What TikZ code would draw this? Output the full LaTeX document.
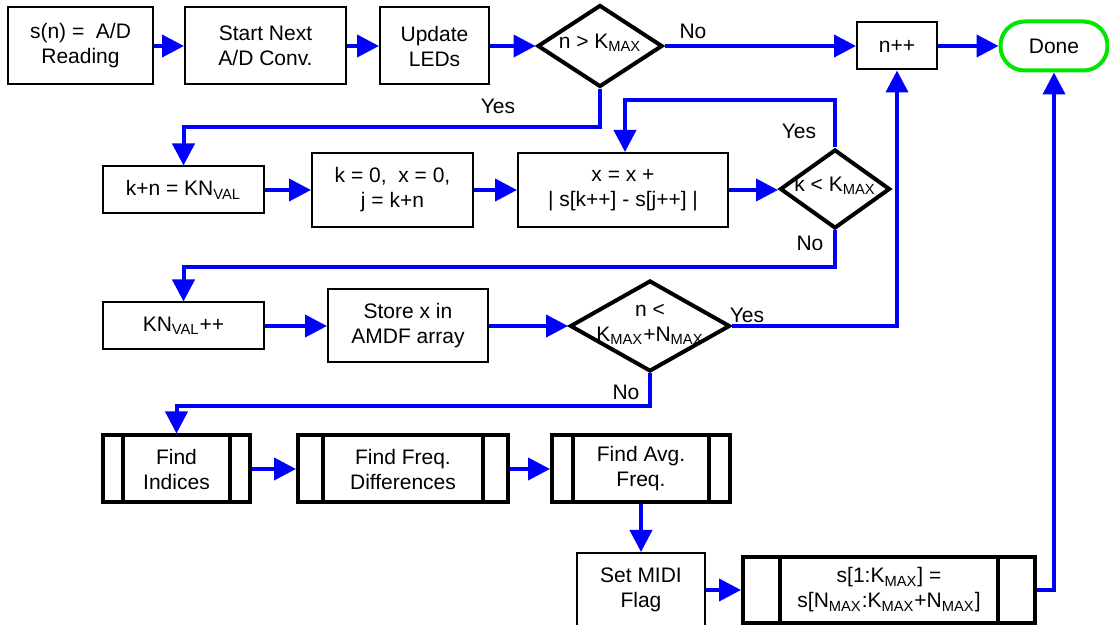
\documentclass[tikz,border=0pt]{standalone}
\usepackage{fontspec}
\setmainfont{Liberation Sans}
\usetikzlibrary{arrows.meta,shapes.geometric}
\definecolor{flowblue}{RGB}{0,0,255}
\definecolor{donegreen}{RGB}{0,230,0}
\newcommand{\lo}[1]{\textsubscript{#1}}
% diamond text takes no room, so the diamond keeps its set size
\newcommand{\dectext}[1]{\smash{\makebox[0pt]{\raisebox{-1.5pt}{\begin{tabular}{@{}c@{}}#1\end{tabular}}}}}
\begin{document}
\begin{tikzpicture}[x=0.5pt,y=-0.5pt]
        % Define styles
        \tikzset{
            every node/.style={font=\fontsize{10.5pt}{12.5pt}\selectfont},
            proc/.style={draw, line width=1pt, align=center, inner sep=0pt},
            decision/.style={diamond, draw, line width=2pt, inner sep=0pt},
            subproc/.style={draw, line width=2pt, align=center, inner sep=0pt,
                path picture={\draw[line width=2pt]
                    ([xshift=#1]path picture bounding box.north west) -- ([xshift=#1]path picture bounding box.south west)
                    ([xshift=-#1]path picture bounding box.north east) -- ([xshift=-#1]path picture bounding box.south east);}},
            subproc/.default=10pt,
            terminal/.style={draw=donegreen, line width=2pt, rounded corners=12pt, inner sep=0pt},
            flow/.style={-{Triangle[length=11pt,width=11pt]}, draw=flowblue, line width=2pt},
            lbl/.style={inner sep=1pt}
        }
        \useasboundingbox (0,0) rectangle (1109,625);
        % Top row
        \node[proc, minimum width=72.5pt, minimum height=38.5pt] (rd) at (80.5,46) {s(n) =\ \ A/D\\Reading};
        \node[proc, minimum width=80.5pt, minimum height=38.5pt] (sn) at (265.5,46) {Start Next\\A/D Conv.};
        \node[proc, minimum width=54.5pt, minimum height=38.5pt] (led) at (434.5,46) {Update\\LEDs};
        \node[decision, minimum width=62.5pt, minimum height=41pt] (d1) at (600,46) {\dectext{n > K\lo{MAX}}};
        \node[proc, minimum width=40pt, minimum height=23.5pt] (npp) at (897,46) {n++};
        \node[terminal, minimum width=53.5pt, minimum height=24.5pt] (done) at (1054,46) {Done};
        % Inner loop row
        \node[proc, minimum width=80.5pt, minimum height=23.5pt] (kn) at (183.5,190) {k+n = KN\lo{VAL}};
        \node[proc, minimum width=80.5pt, minimum height=37pt] (kz) at (392.5,190) {k = 0,\ \ x = 0,\\j = k+n};
        \node[proc, minimum width=105pt, minimum height=37pt] (xs) at (623,190) {x = x +\\| s[k++] - s[j++] |};
        \node[decision, minimum width=55pt, minimum height=39.5pt] (d2) at (835,189) {\dectext{k < K\lo{MAX}}};
        % Outer loop row
        \node[proc, minimum width=80.5pt, minimum height=23.5pt] (knp) at (183.5,326) {KN\lo{VAL}++};
        \node[proc, minimum width=80pt, minimum height=36.5pt] (st) at (408,326) {Store x in\\AMDF array};
        \node[decision, minimum width=80pt, minimum height=45.5pt] (d3) at (650,326) {\dectext{n <\\K\lo{MAX}+N\lo{MAX}}};
        % Analysis row
        \node[subproc=10pt, minimum width=73.5pt, minimum height=33.5pt] (fi) at (176.5,469) {Find\\Indices};
        \node[subproc=12.5pt, minimum width=105pt, minimum height=33.5pt] (ff) at (403,469) {Find Freq.\\Differences};
        \node[subproc=10.5pt, minimum width=89pt, minimum height=33.5pt] (fa) at (641,469) {Find Avg.\\Freq.};
        \node[proc, minimum width=64pt, minimum height=37pt] (midi) at (641,590) {Set MIDI\\Flag};
        \node[subproc=18.5pt, minimum width=146pt, minimum height=33pt] (sh) at (889,590) {s[1:K\lo{MAX}] =\\s[N\lo{MAX}:K\lo{MAX}+N\lo{MAX}]};
        % Branch labels
        \node[lbl] (no1) at (693,31) {No};
        \node[lbl] (yes1) at (498,106) {Yes};
        \node[lbl] (yes2) at (799,131) {Yes};
        \node[lbl] (no2) at (810,243) {No};
        \node[lbl] (yes3) at (747,315) {Yes};
        \node[lbl] (no3) at (626,392) {No};
        % Connectors
        \draw[flow] (rd) -- (sn);
        \draw[flow] (sn) -- (led);
        \draw[flow] (led) -- (d1);
        \draw[flow] (d1.east) -- (npp.west);
        \draw[flow] (npp) -- (done);
        \draw[flow] (d1.south) -- ++(0,38) -| (kn.north);
        \draw[flow] (kn) -- (kz);
        \draw[flow] (kz) -- (xs);
        \draw[flow] (xs.east) -- (d2.west |- xs.east);
        \draw[flow] (d2.north) -- ++(0,-47) -| ([xshift=1pt]xs.north);
        \draw[flow] (d2.south) -- ++(0,37) -| (knp.north);
        \draw[flow] (knp) -- (st);
        \draw[flow] (st) -- (d3);
        \draw[flow] (d3.east) -| (npp.south);
        \draw[flow] (d3.south) -- ++(0,33) -| (fi.north);
        \draw[flow] (fi) -- (ff);
        \draw[flow] (ff) -- (fa);
        \draw[flow] (fa) -- (midi);
        \draw[flow] (midi) -- (sh);
        \draw[flow] (sh.east) -| (done.south);
    \end{tikzpicture}
\end{document}
